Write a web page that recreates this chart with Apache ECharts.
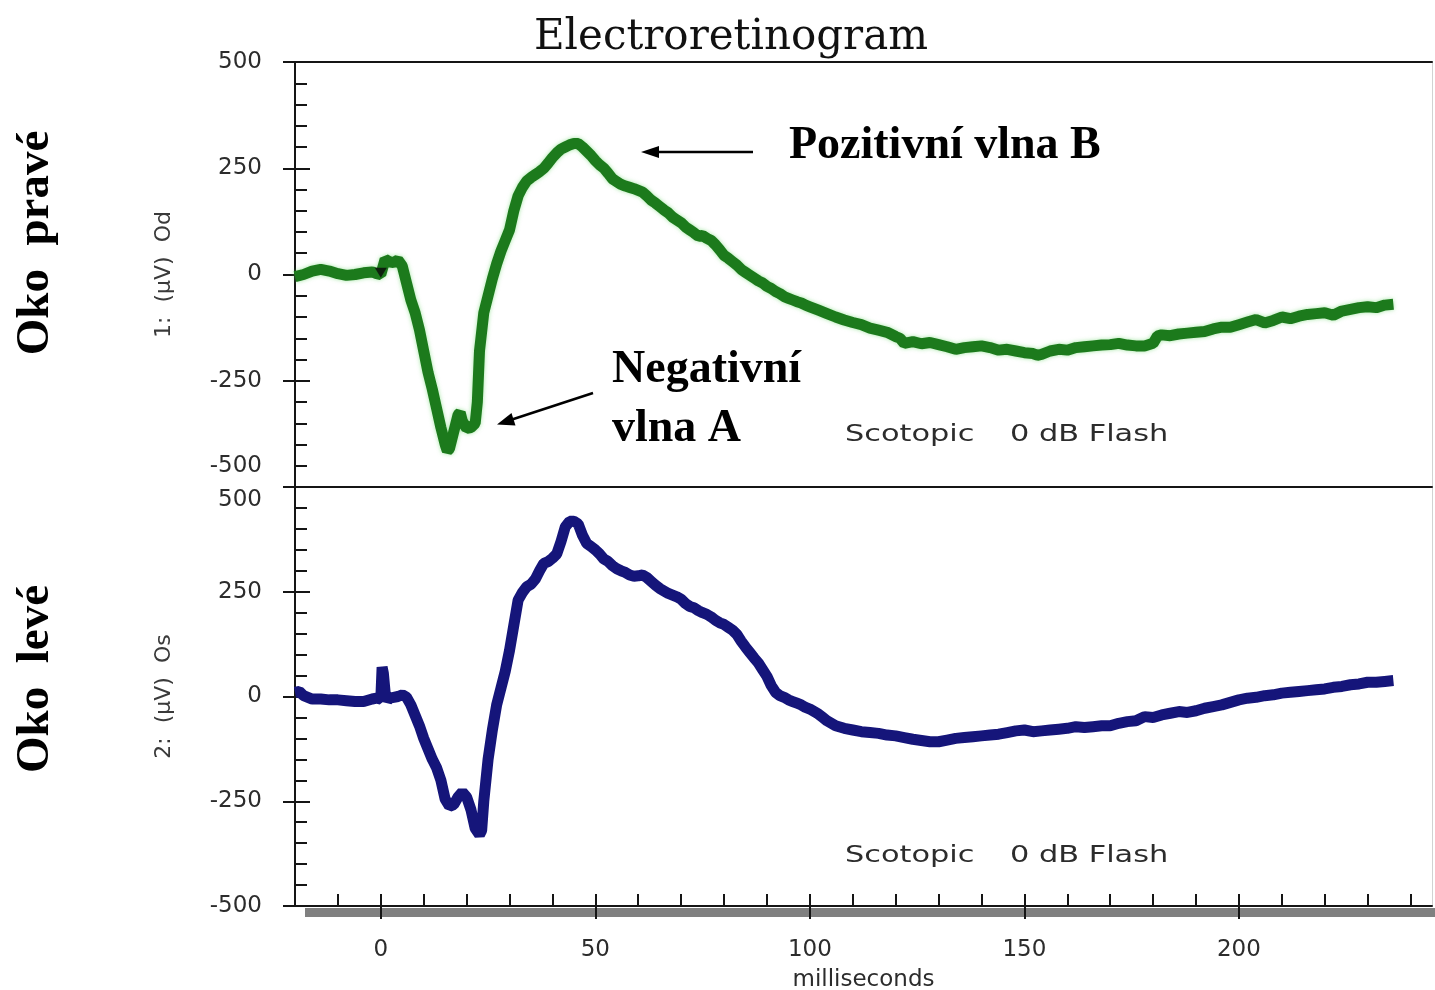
<!DOCTYPE html>
<html>
<head>
<meta charset="utf-8">
<title>Electroretinogram</title>
<script src="https://cdn.jsdelivr.net/npm/echarts@6/dist/echarts.min.js"></script>
<style>
  html, body { margin: 0; padding: 0; background: #ffffff; }
  #chart { width: 1435px; height: 990px; }
</style>
</head>
<body>
<div id="chart"></div>
<script>
// Right eye (Od) response: time in ms, amplitude in µV
const odMs = [-20,-18,-16,-14,-12,-10,-8,-6,-4,-2,-1,0,1,2,3,4,5,6,7,8,9,10,11,12,13,14,15,15.5,16,17,18,18.5,19,20,21,22,22.5,23,24,25,26,27,28,29,30,31,32,33,34,35,36,37,38,39,40,41,42,43,44,45,46,47,48,49,50,51,52,53,54,55,56,57,58,59,60,61,62,63,64,65,66,67,68,69,70,71,72,73,74,75,76,77,78,79,80,81,82,83,84,85,86,87,88,89,90,91,92,93,94,95,96,97,98,99,100,102,104,106,108,110,112,114,116,118,120,121,122,124,126,128,130,132,134,136,138,140,142,144,146,148,150,152,153,154,156,158,160,162,164,166,168,170,172,174,176,178,180,181,182,184,186,188,190,192,194,196,198,200,202,204,206,208,210,212,214,216,218,220,222,224,226,228,230,232,234,236];
const odUv = [-5,0,8,12,8,2,-2,0,4,6,2,0,36,30,28,34,20,-20,-60,-90,-130,-180,-230,-270,-315,-360,-400,-415,-410,-370,-330,-325,-345,-362,-360,-350,-300,-180,-90,-50,-10,25,55,80,105,150,185,205,220,228,235,242,250,262,275,286,295,300,305,308,308,300,290,280,268,258,250,238,225,218,212,208,205,202,198,194,185,175,168,160,152,145,135,128,122,112,105,98,90,92,85,80,70,58,45,38,30,22,12,5,-2,-8,-15,-20,-28,-33,-40,-45,-52,-56,-60,-64,-67,-72,-76,-84,-92,-100,-107,-113,-118,-126,-131,-136,-146,-150,-162,-158,-163,-160,-165,-170,-176,-172,-170,-168,-172,-178,-176,-180,-184,-186,-190,-188,-180,-176,-178,-172,-170,-168,-166,-165,-162,-166,-168,-168,-162,-145,-142,-144,-140,-138,-136,-134,-128,-124,-124,-118,-112,-106,-114,-108,-100,-104,-98,-94,-92,-90,-96,-86,-82,-78,-76,-78,-72,-70];

// Left eye (Os) response: time in ms, amplitude in µV
const osMs = [-20,-19,-18,-17,-16,-14,-12,-10,-8,-6,-4,-2,-1,0,0.3,0.6,1,1.5,2,3,4,5,6,7,8,9,10,11,12,13,14,15,16,17,18,19,20,21,22,23,23.5,24,25,26,27,28,29,30,31,32,33,34,35,36,37,38,39,40,41,42,43,44,45,46,47,48,49,50,51,52,53,54,55,56,57,58,59,60,61,62,63,64,65,66,67,68,69,70,71,72,73,74,75,76,77,78,79,80,81,82,83,84,85,86,87,88,89,90,91,92,93,94,95,96,97,98,99,100,101,102,103,104,105,106,108,110,112,114,116,118,120,122,124,126,128,130,132,134,136,138,140,142,144,146,148,150,152,154,156,158,160,162,164,166,168,170,172,174,176,178,180,182,184,186,188,190,192,194,196,198,200,202,204,206,208,210,212,214,216,218,220,222,224,226,228,230,232,234,236];
const osUv = [10,12,2,-2,-6,-6,-8,-8,-10,-12,-12,-6,-4,-6,70,55,10,-10,-4,-2,0,4,-2,-20,-45,-70,-100,-125,-150,-170,-200,-245,-262,-258,-240,-228,-240,-270,-315,-330,-320,-250,-150,-80,-20,20,60,110,170,230,248,262,268,280,300,318,322,330,340,370,405,418,418,412,385,365,358,350,340,328,322,312,305,300,296,290,287,288,290,284,275,266,258,252,246,242,238,232,222,215,212,205,200,196,190,182,176,172,165,158,148,132,118,105,92,80,64,48,26,10,2,-2,-8,-12,-16,-20,-26,-30,-36,-42,-50,-58,-64,-70,-76,-80,-84,-86,-88,-92,-94,-98,-102,-105,-108,-108,-104,-100,-98,-96,-94,-92,-90,-86,-82,-80,-84,-82,-80,-78,-76,-72,-74,-72,-70,-70,-64,-60,-58,-48,-50,-44,-40,-36,-38,-34,-28,-24,-20,-14,-8,-4,-2,2,4,8,10,12,14,16,18,22,24,28,30,34,34,36,38];

// Stimulus (flash) marker on the Od trace
const flashMarker = [[0, 4]];

// Axis ranges and ticks
const msRange = [-20, 245];
const uvRange = [-500, 500];
const uvStep = 250;
const msMajorTicks = [0, 50, 100, 150, 200];
const msMinorTicks = [-10, 0, 10, 20, 30, 40, 50, 60, 70, 80, 90, 100, 110, 120, 130, 140, 150, 160, 170, 180, 190, 200, 210, 220, 230, 240];

const channelNames = ['1:  (µV)  Od', '2:  (µV)  Os'];
const eyeLabels = ['Oko  pravé', 'Oko  levé'];
const conditionLabel = ['Scotopic', '0 dB Flash'];

const pair = (xs, ys) => xs.map((x, i) => [x, ys[i]]);

const INK = '#151515';
const LABEL = '#2c2c2c';
const SANS = 'DejaVu Sans';
const BOLD_SERIF = 'Liberation Serif';

function yLabelFormatter(shiftUp, shiftDown) {
  return function (v) {
    if (shiftUp !== null && v === shiftUp) return '{up|' + v + '}';
    if (shiftDown !== null && v === shiftDown) return '{down|' + v + '}';
    return '{n|' + v + '}';
  };
}
const yRich = {
  n: { fontFamily: SANS, fontSize: 23, color: LABEL },
  up: { fontFamily: SANS, fontSize: 23, color: LABEL, padding: [0, 0, 42, 0] },
  down: { fontFamily: SANS, fontSize: 23, color: LABEL, padding: [26, 0, 0, 0] }
};

function mainYAxis(grid, name, shiftUp, shiftDown) {
  return {
    gridIndex: grid, type: 'value', min: uvRange[0], max: uvRange[1], interval: uvStep,
    position: 'left',
    axisLine: { show: true, onZero: false, lineStyle: { color: INK, width: 2 } },
    axisTick: { show: true, inside: false, length: 12, lineStyle: { color: INK, width: 2 } },
    axisLabel: { margin: 33, formatter: yLabelFormatter(shiftUp, shiftDown), rich: yRich },
    splitLine: { show: false },
    name: name, nameLocation: 'middle', nameGap: 120, nameRotate: 90,
    nameTextStyle: { fontFamily: SANS, fontSize: 22, color: '#3a3a3a' }
  };
}
function innerTickYAxis(grid) {
  return {
    gridIndex: grid, type: 'value', min: uvRange[0], max: uvRange[1], interval: uvStep,
    position: 'left',
    axisLine: { show: false, onZero: false },
    axisTick: { show: true, inside: true, length: 15, lineStyle: { color: INK, width: 2 } },
    minorTick: { show: true, splitNumber: 5, length: 12, lineStyle: { color: INK, width: 2 } },
    axisLabel: { show: false },
    splitLine: { show: false }
  };
}
function rightEdgeYAxis(grid) {
  return {
    gridIndex: grid, type: 'value', min: uvRange[0], max: uvRange[1],
    position: 'right',
    axisLine: { show: true, onZero: false, lineStyle: { color: '#d2d2d2', width: 1 } },
    axisTick: { show: false }, axisLabel: { show: false }, splitLine: { show: false }
  };
}
function borderXAxis(grid, pos) {
  return {
    gridIndex: grid, type: 'value', min: msRange[0], max: msRange[1], position: pos,
    axisLine: { show: true, onZero: false, lineStyle: { color: INK, width: 2 } },
    axisTick: { show: false }, axisLabel: { show: false }, splitLine: { show: false }
  };
}

const chart = echarts.init(document.getElementById('chart'), null, { renderer: 'canvas' });

const option = {
  backgroundColor: '#ffffff',
  animation: false,
  grid: [
    { left: 295, right: 3, top: 62, height: 425, outerBoundsMode: 'none', containLabel: false },
    { left: 295, right: 3, top: 487, height: 419, outerBoundsMode: 'none', containLabel: false }
  ],
  xAxis: [
    borderXAxis(0, 'top'),
    borderXAxis(0, 'bottom'),
    {
      gridIndex: 1, type: 'value', min: msRange[0], max: msRange[1], position: 'bottom',
      axisLine: { show: true, onZero: false, lineStyle: { color: INK, width: 2 } },
      axisTick: { show: true, inside: false, length: 13, customValues: msMajorTicks, lineStyle: { color: INK, width: 2 } },
      axisLabel: { customValues: msMajorTicks, margin: 33, fontFamily: SANS, fontSize: 23, color: LABEL },
      splitLine: { show: false },
      name: 'milliseconds', nameLocation: 'middle', nameGap: 63,
      nameTextStyle: { fontFamily: SANS, fontSize: 23, color: LABEL }
    },
    {
      gridIndex: 1, type: 'value', min: msRange[0], max: msRange[1], position: 'bottom',
      axisLine: { show: false, onZero: false },
      axisTick: { show: true, inside: true, length: 12, customValues: msMinorTicks, lineStyle: { color: INK, width: 2 } },
      axisLabel: { show: false }, splitLine: { show: false }
    }
  ],
  yAxis: [
    mainYAxis(0, channelNames[0], -500, null),
    innerTickYAxis(0),
    rightEdgeYAxis(0),
    mainYAxis(1, channelNames[1], null, 500),
    innerTickYAxis(1),
    rightEdgeYAxis(1)
  ],
  series: [
    {
      name: 'Od', type: 'line', xAxisIndex: 0, yAxisIndex: 0,
      data: pair(odMs, odUv), showSymbol: false, silent: true,
      lineStyle: { color: '#1c7a1c', width: 11, join: 'bevel',
        shadowColor: 'rgba(90,210,90,0.55)', shadowBlur: 4 }
    },
    {
      name: 'flash', type: 'scatter', xAxisIndex: 0, yAxisIndex: 0,
      data: flashMarker, symbol: 'triangle', symbolRotate: 180, symbolSize: [12, 10],
      itemStyle: { color: '#0a0a0a' }, z: 5, silent: true
    },
    {
      name: 'Os', type: 'line', xAxisIndex: 2, yAxisIndex: 3,
      data: pair(osMs, osUv), showSymbol: false, silent: true,
      lineStyle: { color: '#15157a', width: 11, join: 'bevel' }
    }
  ],
  graphic: [
    // scroll strip under the time axis
    { type: 'rect', left: 305, top: 908, shape: { width: 1130, height: 9 }, style: { fill: '#808080' }, z: -1 },
    // chart title
    { type: 'text', x: 731, y: 38, style: { text: 'Electroretinogram', fontFamily: 'DejaVu Serif', fontSize: 42, fill: '#111', align: 'center', verticalAlign: 'middle' } },
    // eye labels, reading bottom to top
    { type: 'text', x: 36, y: 243, rotation: Math.PI / 2, style: { text: eyeLabels[0], fontFamily: BOLD_SERIF, fontWeight: 'bold', fontSize: 47, fill: '#000', align: 'center', verticalAlign: 'middle' } },
    { type: 'text', x: 36, y: 679, rotation: Math.PI / 2, style: { text: eyeLabels[1], fontFamily: BOLD_SERIF, fontWeight: 'bold', fontSize: 47, fill: '#000', align: 'center', verticalAlign: 'middle' } },
    // recording condition
    { type: 'text', x: 845, y: 435, scaleX: 1.32, style: { text: conditionLabel[0], fontFamily: SANS, fontSize: 23, fill: LABEL, align: 'left', verticalAlign: 'middle' } },
    { type: 'text', x: 1010, y: 435, scaleX: 1.32, style: { text: conditionLabel[1], fontFamily: SANS, fontSize: 23, fill: LABEL, align: 'left', verticalAlign: 'middle' } },
    { type: 'text', x: 845, y: 856, scaleX: 1.32, style: { text: conditionLabel[0], fontFamily: SANS, fontSize: 23, fill: LABEL, align: 'left', verticalAlign: 'middle' } },
    { type: 'text', x: 1010, y: 856, scaleX: 1.32, style: { text: conditionLabel[1], fontFamily: SANS, fontSize: 23, fill: LABEL, align: 'left', verticalAlign: 'middle' } },
    // wave annotations
    { type: 'text', x: 789, y: 123, style: { text: 'Pozitivní vlna B', fontFamily: BOLD_SERIF, fontWeight: 'bold', fontSize: 46, fill: '#000', align: 'left', verticalAlign: 'top' } },
    { type: 'text', x: 612, y: 347, style: { text: 'Negativní', fontFamily: BOLD_SERIF, fontWeight: 'bold', fontSize: 46, fill: '#000', align: 'left', verticalAlign: 'top' } },
    { type: 'text', x: 612, y: 406, style: { text: 'vlna A', fontFamily: BOLD_SERIF, fontWeight: 'bold', fontSize: 46, fill: '#000', align: 'left', verticalAlign: 'top' } },
    // arrow to the B wave
    { type: 'line', shape: { x1: 753, y1: 152, x2: 655, y2: 152 }, style: { stroke: '#000', lineWidth: 2.5 } },
    { type: 'polygon', shape: { points: [[641, 152], [659, 146], [659, 158]] }, style: { fill: '#000' } },
    // arrow to the A wave
    { type: 'line', shape: { x1: 593, y1: 393, x2: 512, y2: 419.5 }, style: { stroke: '#000', lineWidth: 2.5 } },
    { type: 'polygon', shape: { points: [[497, 424.5], [515.5, 425.5], [511.5, 413]] }, style: { fill: '#000' } }
  ]
};

chart.setOption(option);
</script>
</body>
</html>
